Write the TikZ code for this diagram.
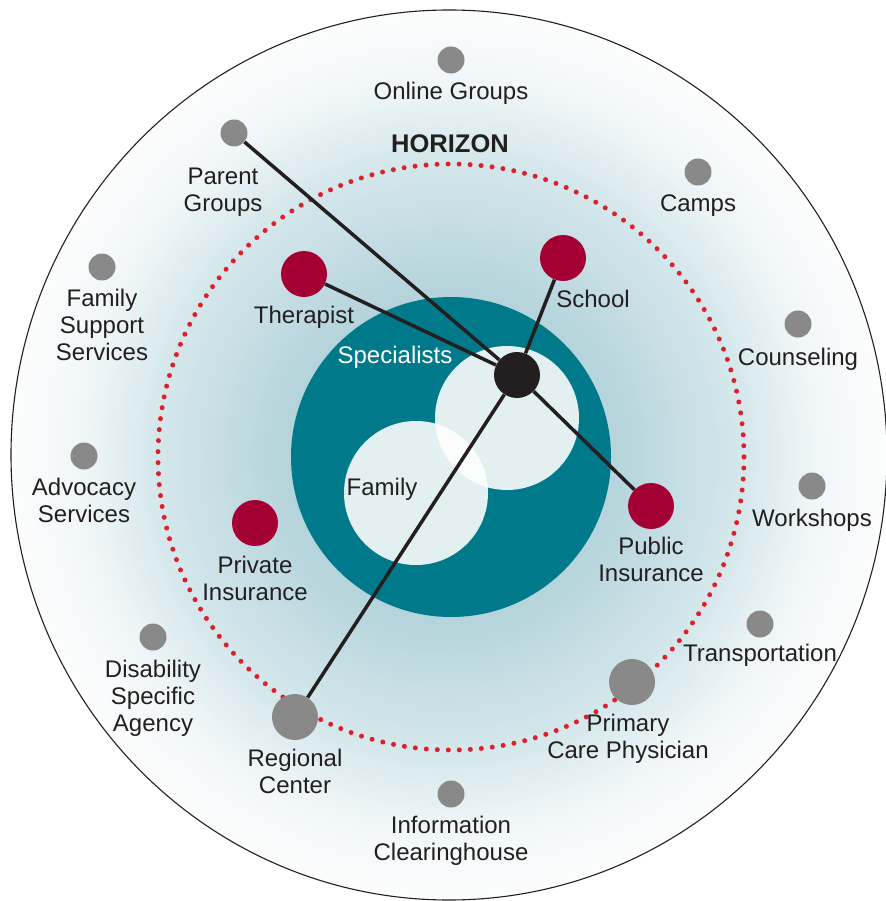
\documentclass[tikz,border=0pt]{standalone}
\usepackage{fontspec}
\setmainfont{Liberation Sans}
\usetikzlibrary{shapes}

\definecolor{ink}{RGB}{35,31,32}
\definecolor{ringteal}{RGB}{0,122,138}
\definecolor{corered}{RGB}{165,0,52}
\definecolor{dotgray}{RGB}{137,137,137}
\definecolor{horizonred}{RGB}{218,33,45}
\definecolor{glowA}{RGB}{180,211,219}
\definecolor{glowB}{RGB}{214,232,236}
\definecolor{glowC}{RGB}{240,246,248}
\definecolor{glowD}{RGB}{252,253,253}

\pgfdeclareradialshading{glow}{\pgfpoint{0bp}{0bp}}{color(0bp)=(glowA); color(9bp)=(glowA); color(17bp)=(glowB); color(21bp)=(glowC); color(25bp)=(glowD); color(50bp)=(glowD)}

\begin{document}
\begin{tikzpicture}[x=1pt, y=-1pt, semithick]

%====Stili================================================

	\tikzstyle{small}=[circle, fill=dotgray, minimum size=27pt, inner sep=0pt]
	\tikzstyle{big}=[circle, fill=dotgray, minimum size=46pt, inner sep=0pt]
	\tikzstyle{core}=[circle, fill=corered, minimum size=46pt, inner sep=0pt]
	\tikzstyle{hub}=[circle, fill=ink, minimum size=46pt, inner sep=0pt]
	\tikzstyle{bubble}=[circle, fill=white, fill opacity=0.89, minimum size=144pt, inner sep=0pt]
	\tikzstyle{txt}=[align=center, text depth=0pt, inner sep=0pt, text=ink, font=\fontsize{24}{27}\selectfont]
	\tikzstyle{link}=[line width=3.5pt, draw=ink]

%====Sfondo e cerchi================================================

	\useasboundingbox (0,0) rectangle (885,901);
	\fill[white] (0,0) rectangle (885,901);
	\shade[shading=glow] (449,455) ellipse [x radius=438, y radius=445];
	\draw[line width=1.1pt, draw=ink] (449,455) ellipse [x radius=438, y radius=445];
	\draw[horizonred, line width=5pt, line cap=round, dash pattern=on 0pt off 11.024pt] (451,457) circle (293);
	\fill[ringteal] (451,457) circle (160);

	\node[bubble] (familyring) at (416,493) {};
	\node[bubble] (specring) at (507,418) {};

%====Nodi e posizione===========================================

	\node[small] (online) at (451,60) {};
	\node[small] (parent) at (234,133) {};
	\node[small] (camps) at (698,172) {};
	\node[small] (support) at (102,267) {};
	\node[small] (counsel) at (798,324) {};
	\node[small] (advocacy) at (84,456) {};
	\node[small] (workshops) at (812,486) {};
	\node[small] (transport) at (760,624) {};
	\node[small] (disability) at (153,637) {};
	\node[small] (info) at (451,794) {};
	\node[big] (primary) at (632,682) {};
	\node[big] (regional) at (295,717) {};
	\node[core] (therapist) at (304,274) {};
	\node[core] (school) at (563,258) {};
	\node[core] (private) at (255,523) {};
	\node[core] (public) at (651,506) {};
	\node[hub] (hub) at (517,375) {};

%====Collegamenti================================================================

	\draw[link] (hub) -- (parent);
	\draw[link] (hub) -- (therapist);
	\draw[link] (hub) -- (school);
	\draw[link] (hub) -- (public);
	\draw[link] (hub) -- (regional);

%====Scritte================================================================

	\node[txt, font=\fontsize{25.5}{28}\selectfont\bfseries] (horizon) at (450,144) {HORIZON};
	\node[txt] (tonline) at (451,91) {Online Groups};
	\node[txt] (tparent) at (223,189.5) {Parent\\Groups};
	\node[txt] (tcamps) at (698,203) {Camps};
	\node[txt] (tsupport) at (102,325) {Family\\Support\\Services};
	\node[txt] (ttherapist) at (304,315) {Therapist};
	\node[txt] (tschool) at (593,299) {School};
	\node[txt, text=white] (tspec) at (395,355) {Specialists};
	\node[txt] (tcounsel) at (798,357) {Counseling};
	\node[txt] (tfamily) at (382,487) {Family};
	\node[txt] (tadvocacy) at (84,500) {Advocacy\\Services};
	\node[txt] (tworkshops) at (812,518) {Workshops};
	\node[txt] (tprivate) at (255,578.5) {Private\\Insurance};
	\node[txt] (tpublic) at (651,559) {Public\\Insurance};
	\node[txt] (ttransport) at (760,653) {Transportation};
	\node[txt] (tdisability) at (153,695.5) {Disability\\Specific\\Agency};
	\node[txt] (tprimary) at (628,736.5) {Primary\\Care Physician};
	\node[txt] (tregional) at (295,771) {Regional\\Center};
	\node[txt] (tinfo) at (451,838.5) {Information\\Clearinghouse};
\end{tikzpicture}
\end{document}
